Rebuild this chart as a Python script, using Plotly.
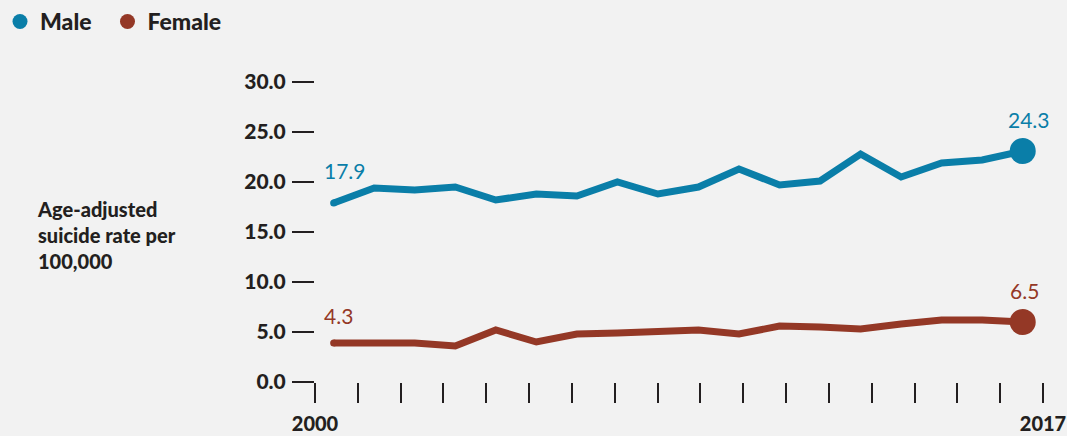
import plotly.graph_objects as go

# suicide rate per 100,000
years = list(range(2000, 2018))
male = [17.9, 19.4, 19.2, 19.5, 18.2, 18.8, 18.6, 20.0, 18.8, 19.5,
        21.3, 19.7, 20.1, 22.8, 20.5, 21.9, 22.2, 23.1]
female = [3.9, 3.9, 3.9, 3.6, 5.2, 4.0, 4.8, 4.9, 5.1, 5.2,
          4.8, 5.6, 5.5, 5.3, 5.8, 6.2, 6.2, 6.0]
male_labels = ["17.9", "24.3"]
female_labels = ["4.3", "6.5"]
y_ticks = [0, 5, 10, 15, 20, 25, 30]
x_ticktext = ["2000"] + [""] * 16 + ["2017"]

BLUE = "#0a7ea8"
RED = "#943826"
INK = "#231f20"
BG = "#f2f2f2"
FONT = "Lato, sans-serif"

fig = go.Figure()

# nbsp padding widens the gap between the two legend entries
for name, vals, col in [("Male\u00a0\u00a0", male, BLUE), ("Female", female, RED)]:
    # the line itself
    fig.add_trace(go.Scatter(x=years, y=vals, mode="lines", xaxis="x2",
                             line=dict(color=col, width=7), showlegend=False,
                             hoverinfo="skip"))
    # rounded start, big dot at the end
    fig.add_trace(go.Scatter(x=[years[0], years[-1]], y=[vals[0], vals[-1]],
                             mode="markers", xaxis="x2", showlegend=False,
                             marker=dict(color=col, size=[7, 26], opacity=1,
                                         line=dict(width=0))))
    # legend entry only
    fig.add_trace(go.Scatter(x=[None], y=[None], mode="markers", name=name,
                             marker=dict(color=col, size=15)))

# (start shift, end shift) in px above the point
annos = []
for vals, labs, col, dy0, dy1, dx1 in [(male, male_labels, BLUE, 33, 32, 6),
                                       (female, female_labels, RED, 28, 32, 2)]:
    annos.append(dict(x=years[0], y=vals[0], xref="x2", yref="y", text=labs[0],
                      showarrow=False, xanchor="left", xshift=-12, yshift=dy0,
                      font=dict(family=FONT, size=21, color=col, weight=400)))
    annos.append(dict(x=years[-1], y=vals[-1], xref="x2", yref="y", text=labs[1],
                      showarrow=False, xanchor="center", xshift=dx1, yshift=dy1,
                      font=dict(family=FONT, size=21, color=col, weight=400)))

annos.append(dict(x=-0.385, y=0.623, xref="paper", yref="paper",
                  text="Age-adjusted<br>suicide rate per<br>100,000",
                  showarrow=False, xanchor="left", yanchor="top", align="left",
                  font=dict(family=FONT, size=20, color=INK, weight=900)))

fig.update_layout(
    width=1067, height=436,
    paper_bgcolor=BG, plot_bgcolor=BG,
    margin=dict(l=315, r=24, t=82, b=54),
    showlegend=True,
    legend=dict(orientation="h", xref="container", yref="container",
                x=-0.003, y=1, xanchor="left", yanchor="top",
                font=dict(family=FONT, size=23, color=INK, weight=900),
                itemsizing="trace", bgcolor="rgba(0,0,0,0)"),
    xaxis=dict(range=[2000, 2017], tickvals=years, ticktext=x_ticktext,
               ticks="outside", ticklen=20, tickwidth=2, tickcolor=INK,
               showgrid=False, zeroline=False, showline=False,
               ticklabelstandoff=4, automargin=False,
               ticklabeloverflow="allow",
               tickfont=dict(family=FONT, size=20, color=INK, weight=900)),
    xaxis2=dict(range=[1999.54, 2017.5], overlaying="x", visible=False),
    yaxis=dict(range=[0, 30], tickvals=y_ticks, tickformat=".1f",
               ticks="outside", ticklen=22, tickwidth=2, tickcolor=INK,
               showgrid=False, zeroline=False, showline=False,
               ticklabelstandoff=2, automargin=False,
               tickfont=dict(family=FONT, size=21, color=INK, weight=900)),
    annotations=annos,
)

fig.write_html("out.html", config={"displayModeBar": False},
               post_script="document.body.style.margin='0';"
                           "Plotly.Plots.resize(document.getElementById('{plot_id}'));")
